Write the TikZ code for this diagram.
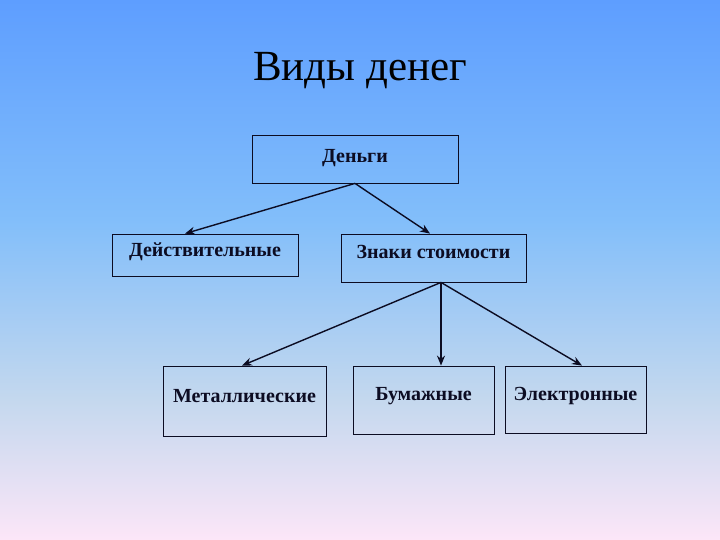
\documentclass[tikz,border=0pt]{standalone}
\usepackage{fontspec}
\setmainfont{Liberation Serif}
\usetikzlibrary{arrows.meta}
\definecolor{bgtop}{HTML}{5E9EFF}
\definecolor{bgmid}{HTML}{82BEFA}
\definecolor{bglow}{HTML}{C4D8EE}
\definecolor{bgbot}{HTML}{FCE6F8}
\definecolor{ink}{HTML}{0C0C22}
\tikzset{
  box/.style={draw=ink, line width=0.8pt, inner sep=0pt},
  lbl/.style={font=\bfseries\fontsize{20}{24}\selectfont, text=ink, inner sep=0pt},
  conn/.style={draw=ink, line width=1.4pt, -{Stealth[length=10pt,width=8pt]}}
}
\begin{document}
\begin{tikzpicture}[x=1pt,y=-1pt]
\fill[top color=bgtop, bottom color=bgmid] (0,0) rectangle (720,220);
\fill[top color=bgmid, bottom color=bglow] (0,219.5) rectangle (720,400);
\fill[top color=bglow, bottom color=bgbot] (0,399.5) rectangle (720,540);
\useasboundingbox (0,0) rectangle (720,540);
\node[font=\fontsize{43}{50}\selectfont, text=black, inner sep=0pt] (title) at (360,71) {Виды денег};
% boxes
\node[box, minimum width=206pt, minimum height=48pt] (money) at (355,159) {};
\node[box, minimum width=186pt, minimum height=42pt] (real) at (205,255) {};
\node[box, minimum width=185pt, minimum height=48pt] (signs) at (433.5,258) {};
\node[box, minimum width=163pt, minimum height=70pt] (metal) at (244.5,401) {};
\node[box, minimum width=141pt, minimum height=68pt] (paper) at (423.5,400) {};
\node[box, minimum width=141pt, minimum height=67pt] (elec) at (575.5,399.5) {};
% labels
\node[lbl] (tmoney) at (355,158.5) {Деньги};
\node[lbl] (treal) at (205,252) {Действительные};
\node[lbl] (tsigns) at (433.5,252) {Знаки стоимости};
\node[lbl] (tmetal) at (244.5,396) {Металлические};
\node[lbl] (tpaper) at (423.5,396) {Бумажные};
\node[lbl] (telec) at (575.5,396) {Электронные};
% connectors
\coordinate (mb) at (money.south -| 355,0);
\coordinate (sb) at (signs.south -| 441,0);
\draw[conn] (mb) -- (real.north -| 185,0);
\draw[conn] (mb) -- (signs.north -| 430,0);
\draw[conn] (sb) -- (metal.north -| 242,0);
\draw[conn] (sb) -- (paper.north -| 441,0);
\draw[conn] (sb) -- (elec.north -| 582,0);
\end{tikzpicture}
\end{document}
